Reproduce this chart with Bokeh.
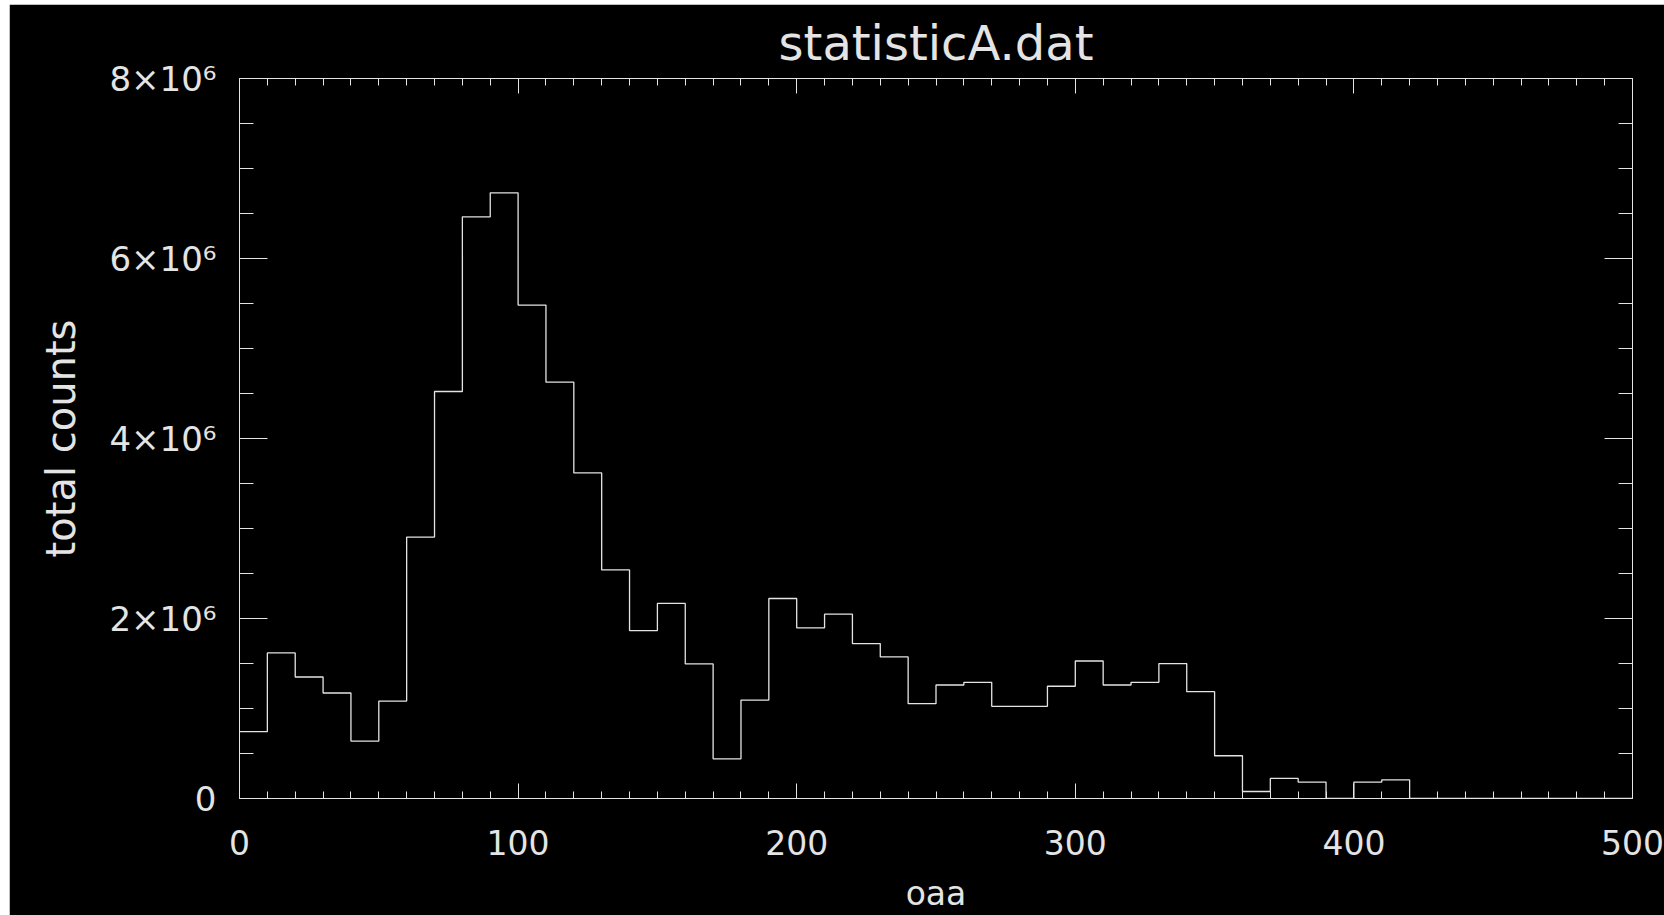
from bokeh.plotting import figure
from bokeh.models import LinearAxis, SingleIntervalTicker, Range1d, ColumnDataSource
from bokeh.embed import file_html
from bokeh.resources import INLINE

# ---- data ----
title_text = "statisticA.dat"
x_label = "oaa"
y_label = "total counts"
bin_width = 10
counts = [
    742000, 1617000, 1350000, 1172000, 638000, 1083000, 2905000, 4522000,
    6463000, 6730000, 5483000, 4626000, 3617000, 2540000, 1866000, 2167000,
    1495000, 441000, 1094000, 2222000, 1896000, 2048000, 1721000, 1573000,
    1054000, 1261000, 1291000, 1024000, 1024000, 1247000, 1528000, 1261000,
    1291000, 1499000, 1187000, 475000, 78000, 223000, 182000, 0,
    182000, 208000, 0, 0, 0, 0, 0, 0, 0, 0,
]
x_range = (0, 500)
y_range = (0, 8000000)
ytick_values = [0, 2000000, 4000000, 6000000, 8000000]
ytick_labels = ["0", "2×10⁶", "4×10⁶", "6×10⁶", "8×10⁶"]
xtick_values = [0, 100, 200, 300, 400, 500]
xtick_labels = ["0", "100", "200", "300", "400", "500"]

# step outline: left bin edges plus the closing edge
edges = [i * bin_width for i in range(len(counts) + 1)]
ys = counts + [counts[-1]]
src = ColumnDataSource(dict(x=edges, y=ys))

FG = "#e4e4e4"
FONT = "DejaVu Sans"

p = figure(
    width=1655, height=911,
    x_range=Range1d(*x_range), y_range=Range1d(*y_range),
    output_backend="svg", toolbar_location=None,
    title=title_text,
    min_border_left=230, min_border_right=32,
    min_border_top=74, min_border_bottom=117,
    background_fill_color="black", border_fill_color="black",
    outline_line_color=None,
)
p.margin = (4, 0, 0, 9)
p.grid.visible = False

p.title.align = "center"
p.title.text_color = FG
p.title.text_font = FONT
p.title.text_font_size = "48px"
p.title.text_font_style = "normal"
p.title.standoff = 16


def style_x(ax, labels=True):
    ax.ticker = SingleIntervalTicker(interval=100, num_minor_ticks=10)
    ax.axis_line_color = FG
    ax.major_tick_line_color = FG
    ax.minor_tick_line_color = FG
    ax.major_tick_in = 15
    ax.major_tick_out = 0
    ax.minor_tick_in = 7
    ax.minor_tick_out = 0
    if labels:
        ax.major_label_text_color = FG
        ax.major_label_text_font = FONT
        ax.major_label_text_font_size = "33px"
        ax.major_label_standoff = 31
        ax.major_label_overrides = {v: s for v, s in zip(xtick_values, xtick_labels)}
    else:
        ax.major_label_text_color = None
        ax.major_label_text_font_size = "1px"
        ax.major_label_standoff = 0


def style_y(ax, labels=True):
    ax.ticker = SingleIntervalTicker(interval=2000000, num_minor_ticks=4)
    ax.axis_line_color = FG
    ax.major_tick_line_color = FG
    ax.minor_tick_line_color = FG
    ax.major_tick_in = 28
    ax.major_tick_out = 0
    ax.minor_tick_in = 14
    ax.minor_tick_out = 0
    if labels:
        ax.major_label_text_color = FG
        ax.major_label_text_font = FONT
        ax.major_label_text_font_size = "34px"
        ax.major_label_standoff = 23
        ax.major_label_overrides = {v: s for v, s in zip(ytick_values, ytick_labels)}
    else:
        ax.major_label_text_color = None
        ax.major_label_text_font_size = "1px"
        ax.major_label_standoff = 0


xa = p.xaxis[0]
style_x(xa)
xa.axis_label = x_label
xa.axis_label_text_color = FG
xa.axis_label_text_font = FONT
xa.axis_label_text_font_size = "33px"
xa.axis_label_text_font_style = "normal"
xa.axis_label_standoff = 16

ya = p.yaxis[0]
style_y(ya)
ya.axis_label = y_label
ya.axis_label_text_color = FG
ya.axis_label_text_font = FONT
ya.axis_label_text_font_size = "40px"
ya.axis_label_text_font_style = "normal"
ya.axis_label_standoff = 22

top = LinearAxis()
style_x(top, labels=False)
p.add_layout(top, "above")

right = LinearAxis()
style_y(right, labels=False)
p.add_layout(right, "right")

p.step(x="x", y="y", source=src, mode="after", line_color=FG, line_width=1.3)

open("out.html", "w").write(file_html(p, INLINE))
